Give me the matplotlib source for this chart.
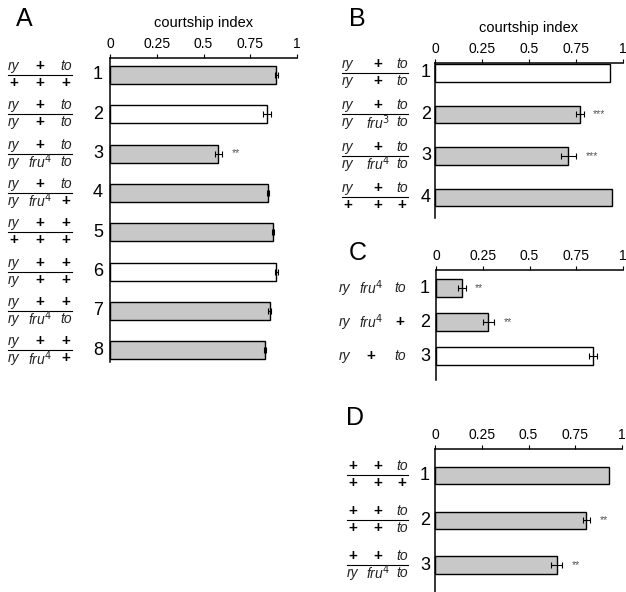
import matplotlib
matplotlib.use('Agg')
import matplotlib.pyplot as plt
import matplotlib.transforms as mtransforms

plt.rcParams['font.family'] = ['Liberation Sans', 'DejaVu Sans']

W, H = 626, 592
GRAY = '#c8c8c8'

# --- data -------------------------------------------------------------
ticks = [0, 0.25, 0.5, 0.75, 1]
tick_labels = ['0', '0.25', '0.5', '0.75', '1']

# panel A
a_val = [0.89, 0.84, 0.58, 0.845, 0.87, 0.89, 0.855, 0.83]
a_err = [0.01, 0.02, 0.02, 0.005, 0.005, 0.01, 0.008, 0.005]
a_gray = [1, 0, 1, 1, 1, 0, 1, 1]
a_sig = ['', '', '**', '', '', '', '', '']
a_top = [['ry', '+', 'to'], ['ry', '+', 'to'], ['ry', '+', 'to'], ['ry', '+', 'to'],
         ['ry', '+', '+'], ['ry', '+', '+'], ['ry', '+', '+'], ['ry', '+', '+']]
a_bot = [['+', '+', '+'], ['ry', '+', 'to'], ['ry', 'fru$^4$', 'to'], ['ry', 'fru$^4$', '+'],
         ['+', '+', '+'], ['ry', '+', '+'], ['ry', 'fru$^4$', 'to'], ['ry', 'fru$^4$', '+']]

# panel B
b_val = [0.93, 0.77, 0.71, 0.94]
b_err = [0.0, 0.02, 0.04, 0.0]
b_gray = [0, 1, 1, 1]
b_sig = ['', '***', '***', '']
b_top = [['ry', '+', 'to']] * 4
b_bot = [['ry', '+', 'to'], ['ry', 'fru$^3$', 'to'], ['ry', 'fru$^4$', 'to'], ['+', '+', '+']]

# panel C
c_val = [0.14, 0.28, 0.84]
c_err = [0.02, 0.03, 0.02]
c_gray = [1, 1, 0]
c_sig = ['**', '**', '']
c_lab = [['ry', 'fru$^4$', 'to'], ['ry', 'fru$^4$', '+'], ['ry', '+', 'to']]

# panel D
d_val = [0.93, 0.81, 0.65]
d_err = [0.0, 0.02, 0.03]
d_gray = [1, 1, 1]
d_sig = ['', '**', '**']
d_top = [['+', '+', 'to']] * 3
d_bot = [['+', '+', '+'], ['+', '+', 'to'], ['ry', 'fru$^4$', 'to']]

fig = plt.figure(figsize=(W / 100, H / 100), dpi=100)
# overlay in pixel coordinates for labels
ov = fig.add_axes([0, 0, 1, 1])
ov.set_xlim(0, W)
ov.set_ylim(H, 0)
ov.axis('off')


def make_ax(x0, y0, x1, y1):
    return fig.add_axes([x0 / W, 1 - y1 / H, (x1 - x0) / W, (y1 - y0) / H])


def draw_panel(ax, vals, errs, grays, sigs, ylim, h, xlabel=False):
    ys = list(range(1, len(vals) + 1))
    colors = [GRAY if g else 'white' for g in grays]
    ax.barh(ys, vals, height=h, color=colors, edgecolor='black', linewidth=1.0,
            clip_on=False)
    for y, v, e, s in zip(ys, vals, errs, sigs):
        if e > 0:
            ax.errorbar(v, y, xerr=e, fmt='none', ecolor='black', elinewidth=0.8,
                        capsize=2, capthick=0.8)
        if s:
            ax.text(v + e + 0.05, y, s, fontsize=7.5, color='#555555', va='center', ha='left')
    ax.set_xlim(0, 1)
    ax.set_ylim(*ylim)
    ax.patch.set_alpha(0)
    ax.spines['right'].set_visible(False)
    ax.spines['bottom'].set_visible(False)
    ax.spines['top'].set_linewidth(1.1)
    ax.spines['left'].set_linewidth(1.1)
    ax.xaxis.tick_top()
    ax.set_xticks(ticks)
    ax.set_xticklabels(tick_labels, fontsize=10)
    ax.tick_params(axis='x', length=3, width=0.8, pad=2)
    ax.set_yticks([])
    if xlabel:
        ax.xaxis.set_label_position('top')
        ax.set_xlabel('courtship index', fontsize=10.5, labelpad=7)
    return ys


def token(x, y, s, trans):
    if s == '+':
        ov.text(x, y, s, transform=trans, fontsize=11, fontweight='bold',
                ha='center', va='center')
    else:
        ov.text(x, y, s, transform=trans, fontsize=10, style='italic',
                ha='center', va='center', color='#222222')


def genotypes(ax, ys, cols, line, numx, top, bot=None):
    blend = mtransforms.blended_transform_factory(ov.transData, ax.transData)
    up = mtransforms.offset_copy(blend, fig=fig, x=0, y=9, units='dots')
    dn = mtransforms.offset_copy(blend, fig=fig, x=0, y=-8, units='dots')
    for i, y in enumerate(ys):
        if bot is None:
            for cx, s in zip(cols, top[i]):
                token(cx, y, s, blend)
        else:
            for cx, s in zip(cols, top[i]):
                token(cx, y, s, up)
            for cx, s in zip(cols, bot[i]):
                token(cx, y, s, dn)
            ov.plot(line, [y, y], transform=blend, color='black', lw=0.8, clip_on=False)
        ov.text(numx, y, str(i + 1), transform=blend, fontsize=13,
                ha='center', va='center')


axA = make_ax(110, 58, 297, 362)
ysA = draw_panel(axA, a_val, a_err, a_gray, a_sig, (8.3, 0.57), 0.46, xlabel=True)
genotypes(axA, ysA, [14, 40, 66], [8, 72], 98, a_top, a_bot)

axB = make_ax(435, 63, 623, 218)
ysB = draw_panel(axB, b_val, b_err, b_gray, b_sig, (4.5, 0.76), 0.42, xlabel=True)
genotypes(axB, ysB, [348, 378, 402], [342, 408], 426, b_top, b_bot)

axC = make_ax(436, 270, 623, 380)
ysC = draw_panel(axC, c_val, c_err, c_gray, c_sig, (3.7, 0.47), 0.53)
genotypes(axC, ysC, [345, 371, 400], None, 425, c_lab)

axD = make_ax(435, 449, 622, 592)
ysD = draw_panel(axD, d_val, d_err, d_gray, d_sig, (3.6, 0.42), 0.38)
genotypes(axD, ysD, [353, 378, 402], [347, 408], 425, d_top, d_bot)

for s, x, y in [('A', 24, 19), ('B', 357, 19), ('C', 358, 253), ('D', 355, 418)]:
    ov.text(x, y, s, fontsize=18, ha='center', va='center')

fig.savefig('out.png', dpi=100)
